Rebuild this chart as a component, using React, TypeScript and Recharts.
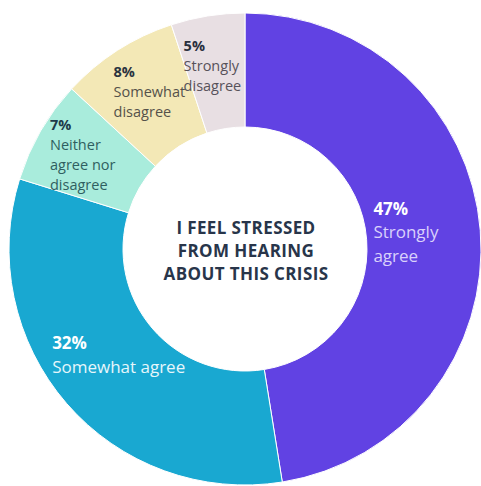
import { PieChart, Pie, Cell } from 'recharts';

// values as printed on the chart (they add up to 99)
const categories = ['Strongly agree', 'Somewhat agree', 'Neither agree nor disagree', 'Somewhat disagree', 'Strongly disagree'];
const percents = [47, 32, 7, 8, 5];
const labelLines = [['Strongly', 'agree'], ['Somewhat agree'], ['Neither', 'agree nor', 'disagree'], ['Somewhat', 'disagree'], ['Strongly', 'disagree']];
const titleLines = ['I FEEL STRESSED', 'FROM HEARING', 'ABOUT THIS CRISIS'];

const sliceColors = ['#6142e3', '#19a8d1', '#a9ecdc', '#f3e8b6', '#e8dfe3'];
const headColors = ['#ffffff', '#ffffff', '#1d3a4a', '#2a3340', '#2a2f3d'];
const bodyColors = ['#d9d1fb', '#e6f6fb', '#2f5f60', '#55524a', '#57525a'];

const data = categories.map((name, i) => ({ name, value: percents[i] }));

const RAD = Math.PI / 180;
const FONT = '"Open Sans", sans-serif';

function SliceLabel(props: any) {
  const { cx, cy, midAngle, index } = props;
  const big = percents[index] >= 20;
  const fs = big ? 17 : 14.5;
  const lh = big ? 23.5 : 20;
  const lines = [`${percents[index]}%`, ...labelLines[index]];
  const r = big ? 167 : 183;
  const mx = cx + r * Math.cos(-midAngle * RAD);
  const my = cy + r * Math.sin(-midAngle * RAD);
  const w = Math.max(...lines.map(l => l.length)) * fs * 0.56;
  const h = lines.length * lh;
  const x = mx - w / 2;
  const y0 = my - h / 2 + fs * 0.85;
  return (
    <text x={x} y={y0} fontFamily={FONT} fontSize={fs} textAnchor="start">
      {lines.map((l, i) => (
        <tspan
          key={i}
          x={x}
          y={y0 + i * lh}
          fontWeight={i === 0 ? 700 : 400}
          fill={i === 0 ? headColors[index] : bodyColors[index]}
        >
          {l}
        </tspan>
      ))}
    </text>
  );
}

export default function App() {
  return (
    <div style={{ position: 'absolute', left: 0, top: 0, width: 481, height: 486, background: '#fff' }}>
      <PieChart width={481} height={486} margin={{ top: 0, right: 0, bottom: 0, left: 0 }}>
        <Pie
          data={data}
          dataKey="value"
          nameKey="name"
          cx={245}
          cy={249}
          innerRadius={122}
          outerRadius={236}
          startAngle={90}
          endAngle={-270}
          stroke="#ffffff"
          strokeWidth={1}
          label={SliceLabel}
          labelLine={false}
          isAnimationActive={false}
        >
          {data.map((d, i) => (
            <Cell key={d.name} fill={sliceColors[i]} />
          ))}
        </Pie>
      </PieChart>
      {/* centre title drawn in its own svg on top of the donut hole */}
      <svg width={481} height={486} style={{ position: 'absolute', left: 0, top: 0, pointerEvents: 'none' }}>
        <text x={246} y={233.5} textAnchor="middle" fontFamily={FONT} fontWeight={700} fontSize={17} letterSpacing={0.4} fill="#28354a">
          {titleLines.map((t, i) => (
            <tspan key={t} x={246} y={233.5 + i * 23.3}>
              {t}
            </tspan>
          ))}
        </text>
      </svg>
    </div>
  );
}
